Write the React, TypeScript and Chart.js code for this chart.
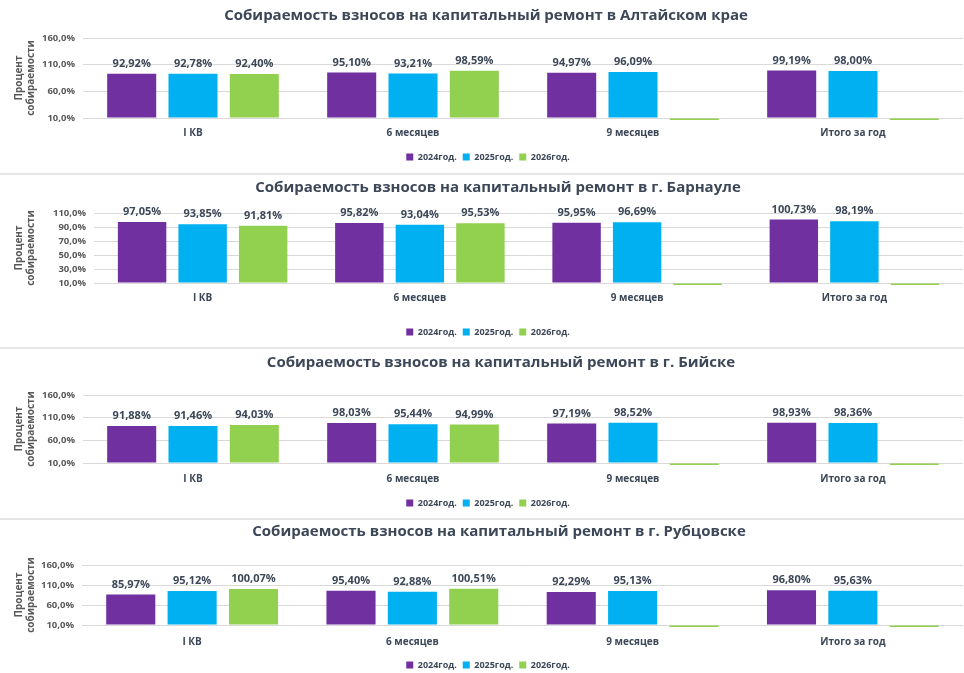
import React, { useEffect, useRef } from "react";
import { Chart, registerables } from "chart.js";

Chart.register(...registerables);

const FONT = "'Open Sans', 'Noto Sans', sans-serif";
const TEXT_DARK = "#3c4757";
const TEXT_AXIS = "#595959";
const GRID = "#d9d9d9";

// Periods and years
const periods = ["I КВ", "6 месяцев", "9 месяцев", "Итого за год"];
const yearLabels = ["2024год.", "2025год.", "2026год."];
const yearColors = ["#7030a0", "#00b0f0", "#92d050"];

// Value-axis ticks (percent)
const wideTicks = [10, 60, 110, 160];
const narrowTicks = [10, 30, 50, 70, 90, 110];

// Алтайский край
const kraiTitle = "Собираемость взносов на капитальный ремонт в Алтайском крае";
const krai2024 = [92.92, 95.1, 94.97, 99.19];
const krai2025 = [92.78, 93.21, 96.09, 98.0];
const krai2026 = [92.4, 98.59, 0, 0];

// г. Барнаул
const barnaulTitle = "Собираемость взносов на капитальный ремонт в г. Барнауле";
const barnaul2024 = [97.05, 95.82, 95.95, 100.73];
const barnaul2025 = [93.85, 93.04, 96.69, 98.19];
const barnaul2026 = [91.81, 95.53, 0, 0];

// г. Бийск
const biyskTitle = "Собираемость взносов на капитальный ремонт в г. Бийске";
const biysk2024 = [91.88, 98.03, 97.19, 98.93];
const biysk2025 = [91.46, 95.44, 98.52, 98.36];
const biysk2026 = [94.03, 94.99, 0, 0];

// г. Рубцовск
const rubtsovskTitle = "Собираемость взносов на капитальный ремонт в г. Рубцовске";
const rubtsovsk2024 = [85.97, 95.4, 92.29, 96.8];
const rubtsovsk2025 = [95.12, 92.88, 95.13, 95.63];
const rubtsovsk2026 = [100.07, 100.51, 0, 0];

const pct = (v: number, digits: number) => v.toFixed(digits).replace(".", ",") + "%";

// Heading drawn at a chosen x position above the plot
const panelTitle = {
  id: "panelTitle",
  afterDraw(chart: any, _args: any, opts: any) {
    const ctx = chart.ctx;
    ctx.save();
    ctx.font = `bold ${opts.size}px ${FONT}`;
    ctx.fillStyle = TEXT_DARK;
    ctx.textAlign = "center";
    ctx.textBaseline = "middle";
    ctx.fillText(opts.text, opts.x, opts.y);
    ctx.restore();
  },
};

// Value labels above each bar
const barValueLabels = {
  id: "barValueLabels",
  afterDatasetsDraw(chart: any) {
    const ctx = chart.ctx;
    const yScale = chart.scales.y;
    ctx.save();
    ctx.font = `bold 11px ${FONT}`;
    ctx.fillStyle = TEXT_DARK;
    ctx.textAlign = "center";
    ctx.textBaseline = "middle";
    chart.data.datasets.forEach((ds: any, i: number) => {
      const meta = chart.getDatasetMeta(i);
      meta.data.forEach((el: any, j: number) => {
        const v = ds.data[j] as number;
        if (!v || v <= yScale.min) return;
        ctx.fillText(pct(v, 2), el.x, el.y - 10);
      });
    });
    ctx.restore();
  },
};

type PanelProps = {
  top: number;
  height: number;
  title: string;
  titleX: number;
  titleY: number;
  chartTop: number;
  chartBottom: number;
  chartLeft: number;
  xLabelY: number;
  legendY: number;
  ticks: number[];
  series: number[][];
};

const W = 964;
const PAD_L = 13;
const PAD_R = 1;
const LEGEND_PAD = 6;
const LEGEND_FONT = 9;

function Panel(p: PanelProps) {
  const ref = useRef<HTMLCanvasElement>(null);

  useEffect(() => {
    if (!ref.current) return;
    const H = p.height;
    const padB = H - p.legendY - (LEGEND_FONT / 2 + 10);
    const legendTop = H - padB - (LEGEND_FONT + LEGEND_PAD + 10);
    const xAxisHeight = legendTop - p.chartBottom;
    const xFont = 10;
    const xPad = p.xLabelY - p.chartBottom - (xFont * 1.2) / 2;
    const tMin = p.ticks[0];
    const tMax = p.ticks[p.ticks.length - 1];
    const step = p.ticks[1] - p.ticks[0];

    const chart = new Chart(ref.current, {
      type: "bar",
      data: {
        labels: periods,
        datasets: p.series.map((vals, i) => ({
          label: yearLabels[i],
          data: vals,
          backgroundColor: yearColors[i],
          borderWidth: 0,
          base: tMin,
          clip: { left: false, right: false, top: false, bottom: 2 } as any,
          categoryPercentage: 0.836,
          barPercentage: 0.8,
        })),
      },
      options: {
        responsive: false,
        animation: false,
        devicePixelRatio: 1,
        events: [],
        layout: { padding: { top: p.chartTop, left: PAD_L, right: PAD_R, bottom: padB } },
        plugins: {
          legend: {
            position: "bottom",
            labels: {
              boxWidth: 7,
              boxHeight: 7,
              padding: LEGEND_PAD,
              color: TEXT_DARK,
              font: { family: FONT, size: LEGEND_FONT, weight: "bold" },
            },
          },
          title: { display: false },
          tooltip: { enabled: false },
          panelTitle: { text: p.title, x: p.titleX, y: p.titleY, size: 15 },
        } as any,
        scales: {
          x: {
            grid: { display: false, drawTicks: false },
            border: { display: false },
            ticks: {
              padding: xPad,
              color: TEXT_DARK,
              font: { family: FONT, size: xFont, weight: "bold" },
            },
            afterFit: (s: any) => {
              s.height = xAxisHeight;
            },
          },
          y: {
            min: tMin,
            max: tMax,
            grid: { color: GRID, lineWidth: 1, drawTicks: false },
            border: { display: false },
            ticks: {
              stepSize: step,
              autoSkip: false,
              padding: 8,
              color: TEXT_AXIS,
              font: { family: FONT, size: 9.5, weight: "bold" },
              callback: (v: any) => pct(Number(v), 1),
            },
            title: {
              display: true,
              text: ["Процент", "собираемости"],
              color: TEXT_AXIS,
              padding: { top: 0, bottom: 0 },
              font: { family: FONT, size: 10, weight: "bold", lineHeight: 1.2 },
            },
            afterFit: (s: any) => {
              s.width = p.chartLeft - PAD_L;
            },
          },
        },
      },
      plugins: [panelTitle, barValueLabels],
    });
    return () => chart.destroy();
  }, []);

  return (
    <canvas
      ref={ref}
      width={W}
      height={p.height}
      style={{ position: "absolute", left: 0, top: p.top, display: "block" }}
    />
  );
}

const separators = [173, 347, 518];

export default function App() {
  return (
    <div
      style={{
        position: "absolute",
        left: 0,
        top: 0,
        width: W,
        height: 673,
        overflow: "hidden",
        background: "#ffffff",
      }}
    >
      <Panel top={0} height={173} title={kraiTitle} titleX={486} titleY={16}
        chartTop={38} chartBottom={118} chartLeft={83} xLabelY={133} legendY={157}
        ticks={wideTicks} series={[krai2024, krai2025, krai2026]} />
      <Panel top={175} height={172} title={barnaulTitle} titleX={498} titleY={13}
        chartTop={38} chartBottom={108} chartLeft={94} xLabelY={123} legendY={157}
        ticks={narrowTicks} series={[barnaul2024, barnaul2025, barnaul2026]} />
      <Panel top={349} height={169} title={biyskTitle} titleX={501} titleY={14}
        chartTop={46} chartBottom={114} chartLeft={83} xLabelY={130} legendY={154}
        ticks={wideTicks} series={[biysk2024, biysk2025, biysk2026]} />
      <Panel top={520} height={160} title={rubtsovskTitle} titleX={499} titleY={12}
        chartTop={45} chartBottom={105} chartLeft={82} xLabelY={122} legendY={145}
        ticks={wideTicks} series={[rubtsovsk2024, rubtsovsk2025, rubtsovsk2026]} />
      {separators.map((y) => (
        <div key={y} style={{ position: "absolute", left: 0, top: y, width: W, height: 2, background: "#e6e6e6" }} />
      ))}
    </div>
  );
}
